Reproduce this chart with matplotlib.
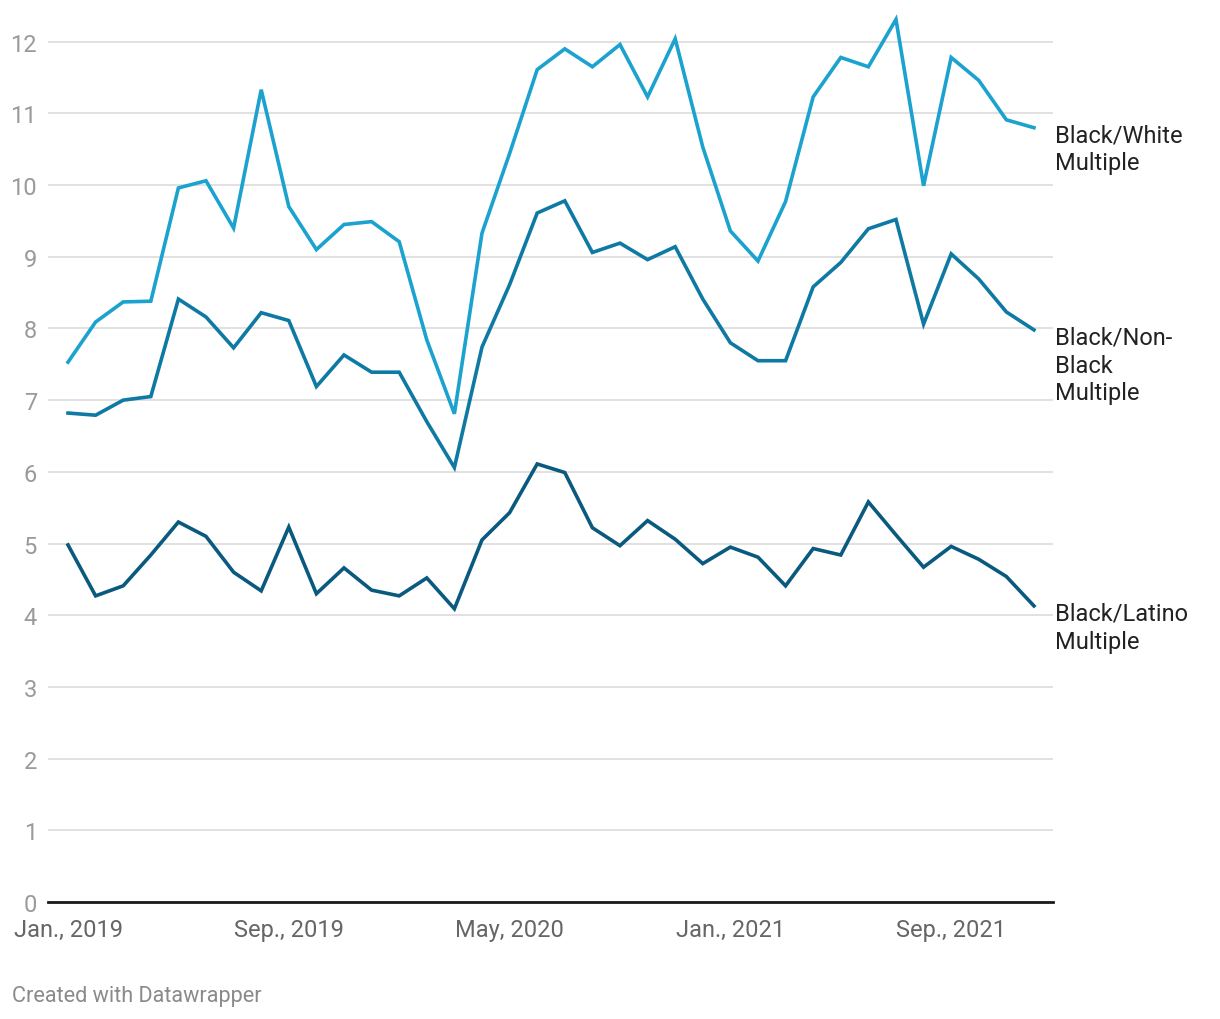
import matplotlib
matplotlib.use("Agg")
import matplotlib.pyplot as plt

plt.rcParams['font.family'] = ['Roboto', 'DejaVu Sans']

months = list(range(36))
tick_positions = [0, 8, 16, 24, 32]
tick_labels = ["Jan., 2019", "Sep., 2019", "May, 2020", "Jan., 2021", "Sep., 2021"]

black_white = [7.53, 8.09, 8.37, 8.38, 9.96, 10.06, 9.40, 11.33, 9.70, 9.10,
               9.45, 9.49, 9.21, 7.84, 6.81, 9.33, 10.44, 11.61, 11.90, 11.65,
               11.96, 11.23, 12.04, 10.53, 9.36, 8.94, 9.77, 11.23, 11.78, 11.65,
               12.31, 9.99, 11.78, 11.46, 10.91, 10.80]
black_nonblack = [6.82, 6.79, 7.00, 7.05, 8.41, 8.16, 7.73, 8.22, 8.11, 7.19,
                  7.63, 7.39, 7.39, 6.70, 6.06, 7.74, 8.61, 9.61, 9.78, 9.06,
                  9.19, 8.96, 9.14, 8.41, 7.80, 7.55, 7.55, 8.58, 8.92, 9.39,
                  9.52, 8.06, 9.04, 8.69, 8.23, 7.98]
black_latino = [4.98, 4.27, 4.41, 4.84, 5.30, 5.10, 4.60, 4.34, 5.23, 4.30,
                4.66, 4.35, 4.27, 4.52, 4.09, 5.05, 5.43, 6.11, 5.99, 5.22,
                4.97, 5.32, 5.06, 4.72, 4.95, 4.81, 4.41, 4.93, 4.84, 5.58,
                5.12, 4.67, 4.96, 4.78, 4.54, 4.13]

series = [
    ("Black/White\nMultiple", black_white, "#1ba2cf"),
    ("Black/Non-\nBlack\nMultiple", black_nonblack, "#0e7aa3"),
    ("Black/Latino\nMultiple", black_latino, "#0a5a7f"),
]
yticks = list(range(0, 13))

fig = plt.figure(figsize=(12.2, 10.2), dpi=100)
ax = fig.add_axes([48/1220, 1 - 903/1020, (1053-48)/1220, (903-14)/1020])

for label, vals, color in series:
    ax.plot(months, vals, color=color, lw=2.6, solid_joinstyle='miter', zorder=3)
    ax.annotate(label, xy=(months[-1], vals[-1]), xytext=(15, 3),
                textcoords='offset points', va='top', ha='left',
                fontsize=17, color='#222222', linespacing=1.27,
                annotation_clip=False)

ax.set_xlim(-0.725, 35.69)
ax.set_ylim(0, 12.4)
ax.set_yticks(yticks)
ax.set_yticklabels([str(t) for t in yticks])
ax.set_xticks(tick_positions)
ax.set_xticklabels(tick_labels)
ax.grid(axis='y', color='#e1e1e1', lw=1.4, zorder=0)
ax.grid(axis='x', visible=False)
for s in ['top', 'right', 'left']:
    ax.spines[s].set_visible(False)
ax.spines['bottom'].set_color('#1a1a1a')
ax.spines['bottom'].set_linewidth(2.0)
ax.spines['bottom'].set_zorder(4)
ax.tick_params(axis='y', length=0, pad=8, labelsize=17, labelcolor='#9a9a9a')
ax.tick_params(axis='x', length=0, pad=11.5, labelsize=17, labelcolor='#666666')
for lbl in ax.get_yticklabels():
    lbl.set_horizontalalignment('right')

fig.text(12/1220, 1 - 997/1020, "Created with Datawrapper", fontsize=15.6,
         color='#8a8a8a', va='center', ha='left')

fig.savefig("out.png", dpi=100, facecolor='white')
